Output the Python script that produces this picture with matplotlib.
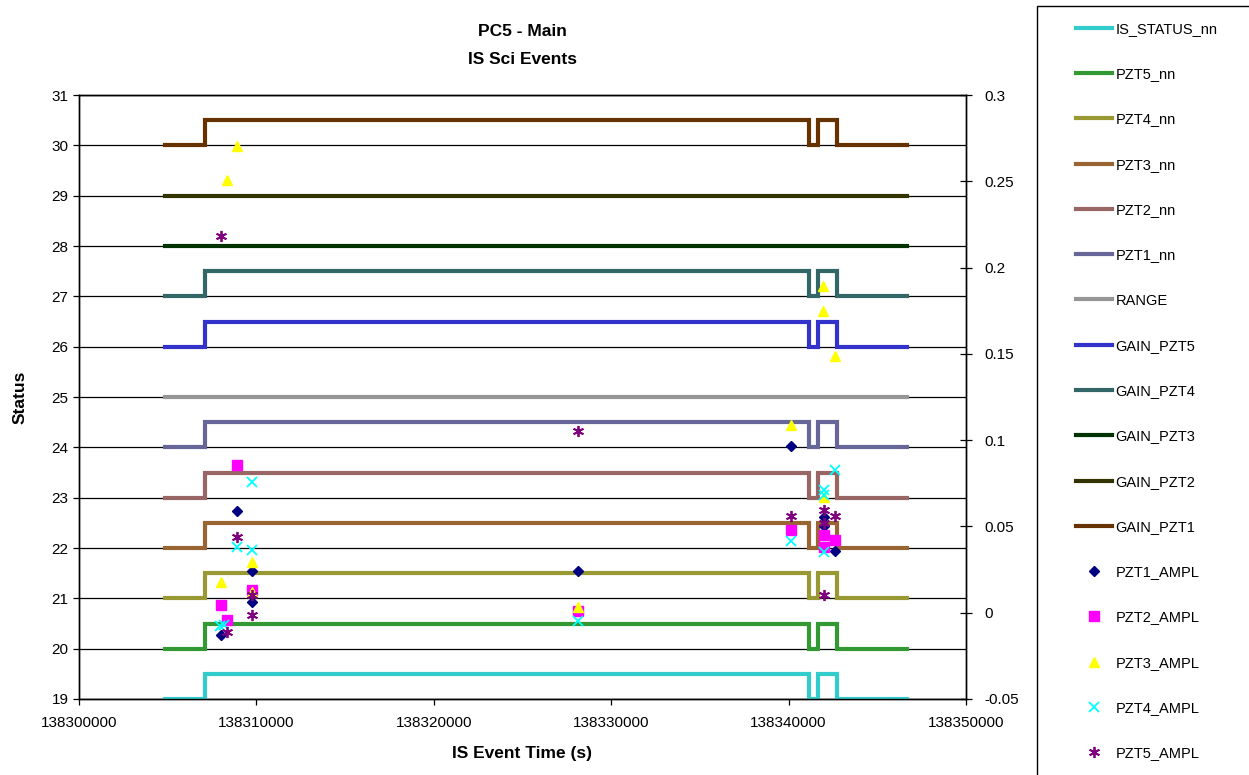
import matplotlib
matplotlib.use("Agg")
import matplotlib.pyplot as plt
from matplotlib.patches import Rectangle
from matplotlib.ticker import FuncFormatter, MultipleLocator

plt.rcParams['font.family'] = ['Liberation Sans', 'DejaVu Sans']

# ---- step series (left axis) ----
step_times = [138304850, 138307100, 138307100, 138341150, 138341150,
              138341650, 138341650, 138342720, 138342720, 138346670]
step_shape = [0, 0, 0.5, 0.5, 0, 0, 0.5, 0.5, 0, 0]
flat_shape = [0, 0, 0, 0, 0, 0, 0, 0, 0, 0]

line_names = ["IS_STATUS_nn", "PZT5_nn", "PZT4_nn", "PZT3_nn", "PZT2_nn",
              "PZT1_nn", "RANGE", "GAIN_PZT5", "GAIN_PZT4", "GAIN_PZT3",
              "GAIN_PZT2", "GAIN_PZT1"]
line_base = [19, 20, 21, 22, 23, 24, 25, 26, 27, 28, 29, 30]
line_steps = [True, True, True, True, True, True, False, True, True,
              False, False, True]
line_colors = ["#33CCCC", "#339933", "#999933", "#996633", "#996666",
               "#666699", "#969696", "#3333CC", "#336666", "#003300",
               "#333300", "#663300"]

# ---- amplitude points (right axis) ----
pzt1_t = [138307990, 138308906, 138309750, 138309750, 138328130,
          138340140, 138341980, 138341980, 138342620]
pzt1_v = [-0.0129, 0.0589, 0.0242, 0.0062, 0.0242,
          0.0966, 0.0555, 0.0503, 0.0358]

pzt2_t = [138308000, 138308340, 138308906, 138309750, 138328130,
          138340140, 138341980, 138341980, 138342620]
pzt2_v = [0.0045, -0.0042, 0.0856, 0.0132, 0.0010,
          0.0479, 0.0450, 0.0381, 0.0421]

pzt3_t = [138308000, 138308340, 138308906, 138309750, 138309750,
          138328130, 138340140, 138341940, 138341940, 138342620, 138341980]
pzt3_v = [0.0178, 0.2508, 0.2705, 0.0294, 0.0120,
          0.0033, 0.1088, 0.1893, 0.1748, 0.1488, 0.0671]

pzt4_t = [138307948, 138308200, 138308906, 138309750, 138309750,
          138328130, 138340140, 138341980, 138341980, 138341980, 138342620]
pzt4_v = [-0.0075, -0.0071, 0.0381, 0.0758, 0.0363,
          -0.0048, 0.0416, 0.0711, 0.0682, 0.0352, 0.0827]

pzt5_t = [138308000, 138308340, 138308906, 138309750, 138309750,
          138328130, 138340140, 138341980, 138341980, 138342620, 138341980]
pzt5_v = [0.2183, -0.0112, 0.0439, 0.0103, -0.0013,
          0.1053, 0.0561, 0.0595, 0.0520, 0.0561, 0.0103]

x_ticks = [138300000, 138310000, 138320000, 138330000, 138340000, 138350000]

W, H = 1249, 775
fig = plt.figure(figsize=(W / 100, H / 100), dpi=100)
ax = fig.add_axes([79 / W, 1 - 699 / H, (966 - 79) / W, (699 - 95) / H])
ax2 = ax.twinx()

# grid lines
for yv in range(19, 32):
    ax.axhline(yv, color="black", lw=0.9, zorder=1)

handles = []
for name, base, st, col in zip(line_names, line_base, line_steps, line_colors):
    shape = step_shape if st else flat_shape
    ys = [base + s for s in shape]
    h, = ax.plot(step_times, ys, color=col, lw=3.0, label=name, zorder=3,
                 solid_joinstyle="miter")
    handles.append(h)

ax.set_xlim(138300000, 138350000)
ax.set_ylim(19, 31)
ax.set_xticks(x_ticks)
ax.xaxis.set_major_formatter(FuncFormatter(lambda v, p: f"{int(round(v))}"))
ax.yaxis.set_major_locator(MultipleLocator(1))
ax.tick_params(axis="both", labelsize=11, direction="out", length=4, width=0.9)
ax.tick_params(axis="x", pad=8)

sc_specs = [
    (pzt1_t, pzt1_v, "PZT1_AMPL", dict(marker="D", color="#000080", ms=5.5, ls="none")),
    (pzt2_t, pzt2_v, "PZT2_AMPL", dict(marker="s", color="#FF00FF", ms=7, ls="none")),
    (pzt3_t, pzt3_v, "PZT3_AMPL", dict(marker="^", color="#FFFF00", ms=7.5, ls="none")),
    (pzt4_t, pzt4_v, "PZT4_AMPL", dict(marker="x", color="#00FFFF", ms=7, mew=1.3, ls="none")),
    (pzt5_t, pzt5_v, "PZT5_AMPL", dict(marker=(6, 2, 0), color="#800080", ms=8, mew=1.3, ls="none")),
]
for t, v, name, kw in sc_specs:
    h, = ax2.plot(t, v, label=name, zorder=5, **kw)
    handles.append(h)

ax2.set_ylim(-0.05, 0.3)
ax2.set_yticks([-0.05, 0, 0.05, 0.1, 0.15, 0.2, 0.25, 0.3])
ax2.set_yticklabels(["-0.05", "0", "0.05", "0.1", "0.15", "0.2", "0.25", "0.3"])
ax2.tick_params(axis="y", labelsize=11, direction="inout", length=8, width=0.9, pad=9)

for a in (ax, ax2):
    for sp in a.spines.values():
        sp.set_linewidth(1.0)
        sp.set_color("black")

ax2.set_zorder(ax.get_zorder() + 1)
ax2.patch.set_visible(False)

ax.set_xlabel("IS Event Time (s)", fontsize=12.5, fontweight="bold", labelpad=12)
ax.set_ylabel("Status", fontsize=12.5, fontweight="bold", labelpad=17)
fig.text(522 / W, 1 - 32 / H, "PC5 - Main", ha="center", va="center",
         fontsize=12.5, fontweight="bold")
fig.text(522 / W, 1 - 59 / H, "IS Sci Events", ha="center", va="center",
         fontsize=12.5, fontweight="bold")

# legend box
fig.patches.append(Rectangle((1037 / W, -0.01), 0.3, 1 - 6 / H + 0.01,
                             transform=fig.transFigure, fill=False,
                             edgecolor="black", lw=1.0))
fig.legend(handles=handles, loc="upper left",
           bbox_to_anchor=(1070 / W, 1 - 16 / H), frameon=False,
           fontsize=10.5, labelspacing=2.145, handlelength=2.45,
           handletextpad=0.27, borderaxespad=0)

fig.savefig("out.png", dpi=100)
